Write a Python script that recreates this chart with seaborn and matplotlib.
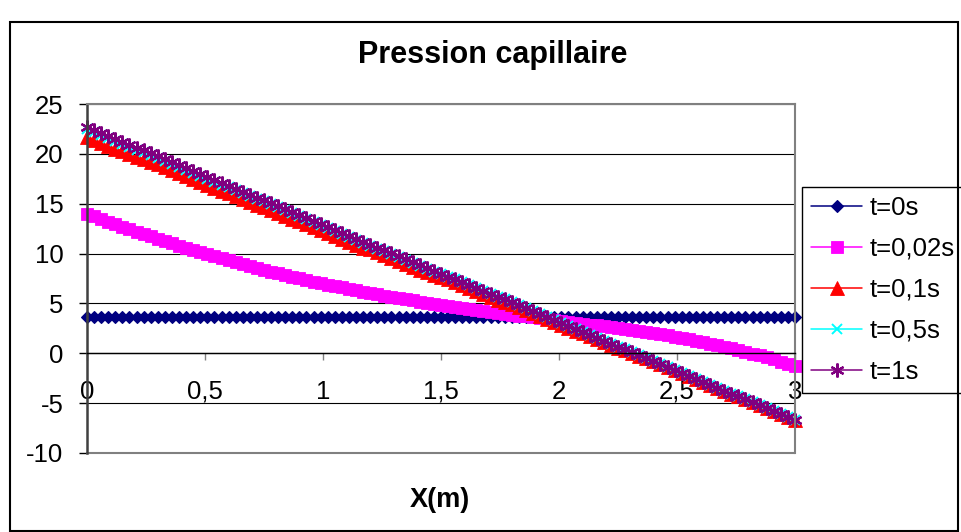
import matplotlib.pyplot as plt
import seaborn as sns
from matplotlib.patches import Rectangle

# abscisse (m), 101 points
x_m = [0.00, 0.03, 0.06, 0.09, 0.12, 0.15, 0.18, 0.21, 0.24, 0.27,
       0.30, 0.33, 0.36, 0.39, 0.42, 0.45, 0.48, 0.51, 0.54, 0.57,
       0.60, 0.63, 0.66, 0.69, 0.72, 0.75, 0.78, 0.81, 0.84, 0.87,
       0.90, 0.93, 0.96, 0.99, 1.02, 1.05, 1.08, 1.11, 1.14, 1.17,
       1.20, 1.23, 1.26, 1.29, 1.32, 1.35, 1.38, 1.41, 1.44, 1.47,
       1.50, 1.53, 1.56, 1.59, 1.62, 1.65, 1.68, 1.71, 1.74, 1.77,
       1.80, 1.83, 1.86, 1.89, 1.92, 1.95, 1.98, 2.01, 2.04, 2.07,
       2.10, 2.13, 2.16, 2.19, 2.22, 2.25, 2.28, 2.31, 2.34, 2.37,
       2.40, 2.43, 2.46, 2.49, 2.52, 2.55, 2.58, 2.61, 2.64, 2.67,
       2.70, 2.73, 2.76, 2.79, 2.82, 2.85, 2.88, 2.91, 2.94, 2.97,
       3.00]

# pression capillaire pour chaque instant
p_t0 = [3.6, 3.6, 3.6, 3.6, 3.6, 3.6, 3.6, 3.6, 3.6, 3.6,
        3.6, 3.6, 3.6, 3.6, 3.6, 3.6, 3.6, 3.6, 3.6, 3.6,
        3.6, 3.6, 3.6, 3.6, 3.6, 3.6, 3.6, 3.6, 3.6, 3.6,
        3.6, 3.6, 3.6, 3.6, 3.6, 3.6, 3.6, 3.6, 3.6, 3.6,
        3.6, 3.6, 3.6, 3.6, 3.6, 3.6, 3.6, 3.6, 3.6, 3.6,
        3.6, 3.6, 3.6, 3.6, 3.6, 3.6, 3.6, 3.6, 3.6, 3.6,
        3.6, 3.6, 3.6, 3.6, 3.6, 3.6, 3.6, 3.6, 3.6, 3.6,
        3.6, 3.6, 3.6, 3.6, 3.6, 3.6, 3.6, 3.6, 3.6, 3.6,
        3.6, 3.6, 3.6, 3.6, 3.6, 3.6, 3.6, 3.6, 3.6, 3.6,
        3.6, 3.6, 3.6, 3.6, 3.6, 3.6, 3.6, 3.6, 3.6, 3.6,
        3.6]

p_t002 = [14.00, 13.73, 13.47, 13.21, 12.95, 12.70, 12.45, 12.20, 11.96, 11.72,
          11.48, 11.25, 11.02, 10.80, 10.58, 10.36, 10.15, 9.94, 9.73, 9.53,
          9.33, 9.13, 8.94, 8.75, 8.56, 8.38, 8.20, 8.02, 7.85, 7.68,
          7.51, 7.34, 7.18, 7.02, 6.88, 6.74, 6.60, 6.46, 6.32, 6.18,
          6.04, 5.91, 5.78, 5.66, 5.54, 5.42, 5.30, 5.18, 5.07, 4.96,
          4.85, 4.75, 4.65, 4.55, 4.45, 4.35, 4.25, 4.15, 4.05, 3.96,
          3.87, 3.78, 3.69, 3.60, 3.51, 3.42, 3.33, 3.24, 3.15, 3.06,
          2.97, 2.88, 2.79, 2.70, 2.61, 2.52, 2.42, 2.32, 2.22, 2.12,
          2.01, 1.90, 1.79, 1.67, 1.54, 1.41, 1.27, 1.13, 0.98, 0.83,
          0.67, 0.51, 0.34, 0.16, -0.03, -0.22, -0.42, -0.62, -0.83, -1.04,
          -1.25]

p_t01 = [21.7, 21.4, 21.1, 20.8, 20.5, 20.3, 20.0, 19.7, 19.5, 19.2,
         19.0, 18.7, 18.4, 18.1, 17.8, 17.5, 17.2, 16.9, 16.6, 16.3,
         16.1, 15.8, 15.5, 15.2, 14.9, 14.7, 14.4, 14.1, 13.8, 13.5,
         13.3, 13.0, 12.7, 12.4, 12.1, 11.8, 11.5, 11.2, 10.9, 10.6,
         10.5, 10.2, 9.9, 9.6, 9.3, 9.0, 8.7, 8.4, 8.2, 7.9,
         7.7, 7.4, 7.1, 6.8, 6.5, 6.2, 5.9, 5.6, 5.3, 5.1,
         4.9, 4.6, 4.3, 4.0, 3.7, 3.4, 3.1, 2.8, 2.5, 2.2,
         2.0, 1.7, 1.4, 1.1, 0.8, 0.5, 0.3, 0.0, -0.3, -0.5,
         -0.8, -1.1, -1.4, -1.7, -2.0, -2.3, -2.6, -2.9, -3.2, -3.5,
         -3.8, -4.1, -4.3, -4.6, -4.9, -5.2, -5.5, -5.8, -6.1, -6.4,
         -6.7]

p_t05 = [22.5, 22.2, 21.9, 21.6, 21.3, 21.0, 20.7, 20.4, 20.2, 19.9,
         19.6, 19.3, 19.0, 18.7, 18.4, 18.1, 17.8, 17.5, 17.2, 16.9,
         16.7, 16.4, 16.1, 15.8, 15.5, 15.3, 15.0, 14.7, 14.4, 14.1,
         13.8, 13.5, 13.2, 12.9, 12.6, 12.3, 12.0, 11.7, 11.4, 11.1,
         10.8, 10.5, 10.3, 10.0, 9.7, 9.4, 9.1, 8.8, 8.5, 8.2,
         8.0, 7.7, 7.4, 7.1, 6.8, 6.5, 6.2, 5.9, 5.6, 5.4,
         5.1, 4.8, 4.5, 4.2, 3.9, 3.6, 3.3, 3.0, 2.7, 2.4,
         2.1, 1.8, 1.5, 1.2, 0.9, 0.6, 0.4, 0.1, -0.2, -0.5,
         -0.8, -1.1, -1.4, -1.7, -2.0, -2.3, -2.6, -2.9, -3.2, -3.5,
         -3.8, -4.1, -4.3, -4.6, -4.9, -5.2, -5.5, -5.8, -6.1, -6.4,
         -6.7]

p_t1 = [22.7, 22.4, 22.1, 21.8, 21.5, 21.2, 20.9, 20.6, 20.4, 20.1,
        19.8, 19.5, 19.2, 18.9, 18.6, 18.3, 18.0, 17.7, 17.4, 17.1,
        16.8, 16.5, 16.2, 15.9, 15.6, 15.4, 15.1, 14.8, 14.5, 14.2,
        13.9, 13.6, 13.3, 13.0, 12.7, 12.4, 12.1, 11.8, 11.5, 11.2,
        10.9, 10.6, 10.4, 10.1, 9.8, 9.5, 9.2, 8.9, 8.6, 8.3,
        8.0, 7.7, 7.4, 7.1, 6.8, 6.5, 6.2, 5.9, 5.6, 5.4,
        5.1, 4.8, 4.5, 4.2, 3.9, 3.6, 3.3, 3.0, 2.7, 2.4,
        2.1, 1.8, 1.5, 1.2, 0.9, 0.6, 0.4, 0.1, -0.2, -0.5,
        -0.8, -1.1, -1.4, -1.7, -2.0, -2.3, -2.6, -2.9, -3.2, -3.5,
        -3.8, -4.1, -4.3, -4.6, -4.9, -5.2, -5.5, -5.8, -6.1, -6.4,
        -6.7]

series = ['t=0s', 't=0,02s', 't=0,1s', 't=0,5s', 't=1s']
x_ticks = [0, 0.5, 1, 1.5, 2, 2.5, 3]
x_tick_labels = ['0', '0,5', '1', '1,5', '2', '2,5', '3']
y_ticks = [-10, -5, 0, 5, 10, 15, 20, 25]

sns.set_theme(style="white")
plt.rcParams['font.family'] = ['Liberation Sans', 'DejaVu Sans']
plt.rcParams['axes.unicode_minus'] = False

W, H = 961, 532
fig = plt.figure(figsize=(W / 100, H / 100), dpi=100)
ax = fig.add_axes([87 / W, 1 - 453 / H, 708 / W, 349 / H])

# style de chaque courbe (facon Excel)
styles = {
    't=0s': dict(color='#000080', marker='D', markersize=6, markeredgewidth=0.8),
    't=0,02s': dict(color='#FF00FF', marker='s', markersize=8.5, markeredgewidth=0.6),
    't=0,1s': dict(color='#FF0000', marker='^', markersize=10, markeredgewidth=0.6),
    't=0,5s': dict(color='#00FFFF', marker='x', markersize=7, markeredgewidth=1.4),
    't=1s': dict(color='#800080', marker=(6, 2, 0), markersize=10, markeredgewidth=1.6),
}
values = [p_t0, p_t002, p_t01, p_t05, p_t1]

for name, vals in zip(series, values):
    st = styles[name]
    sns.lineplot(x=x_m, y=vals, ax=ax, label=name, linewidth=1.1,
                 clip_on=False, legend=False, markeredgecolor=st['color'],
                 markerfacecolor=st['color'], **st)

ax.set_xlim(0, 3)
ax.set_ylim(-10, 25)
ax.set_xticks(x_ticks)
ax.set_xticklabels(x_tick_labels)
ax.set_yticks(y_ticks)
ax.set_xlabel('')
ax.set_ylabel('')

ax.yaxis.grid(True, color='black', linewidth=0.8)
ax.xaxis.grid(False)
ax.set_axisbelow(True)

# axe des x place en y=0
ax.spines['bottom'].set_position(('data', 0))
ax.spines['bottom'].set_color('black')
ax.spines['bottom'].set_linewidth(1.0)
ax.spines['left'].set_color('#404040')
ax.spines['left'].set_linewidth(1.8)
ax.spines['top'].set_color('#808080')
ax.spines['top'].set_linewidth(1.5)
ax.spines['right'].set_color('#808080')
ax.spines['right'].set_linewidth(1.5)
ax.axhline(-10, color='#808080', linewidth=1.5, clip_on=False, zorder=2.5)

ax.tick_params(axis='x', bottom=True, direction='out', length=5, width=1,
               color='#808080', pad=14, labelsize=18.5, labelcolor='black')
ax.tick_params(axis='y', left=True, direction='out', length=6, width=1,
               color='black', pad=11, labelsize=18.5, labelcolor='black')

leg = ax.legend(loc='upper left', bbox_to_anchor=(802 / W, 1 - 187 / H),
                bbox_transform=fig.transFigure, borderaxespad=0, frameon=True,
                fancybox=False, edgecolor='black', framealpha=1, fontsize=18.5,
                handlelength=2.0, handletextpad=0.3, labelspacing=0.66,
                borderpad=0.35)
leg.get_frame().set_linewidth(1.0)
for t in leg.get_texts():
    t.set_color('black')

fig.text(493 / W, 1 - 55 / H, 'Pression capillaire', ha='center', va='center',
         fontsize=22, fontweight='bold', color='black')
fig.text(440 / W, 1 - 500 / H, 'X(m)', ha='center', va='center',
         fontsize=19.5, fontweight='bold', color='black')

# cadre exterieur du graphique
fig.add_artist(Rectangle((10 / W, 1 / H), 948 / W, (531 - 22) / H,
                         transform=fig.transFigure, fill=False,
                         edgecolor='black', linewidth=1.5))

fig.savefig('out.png', dpi=100)
